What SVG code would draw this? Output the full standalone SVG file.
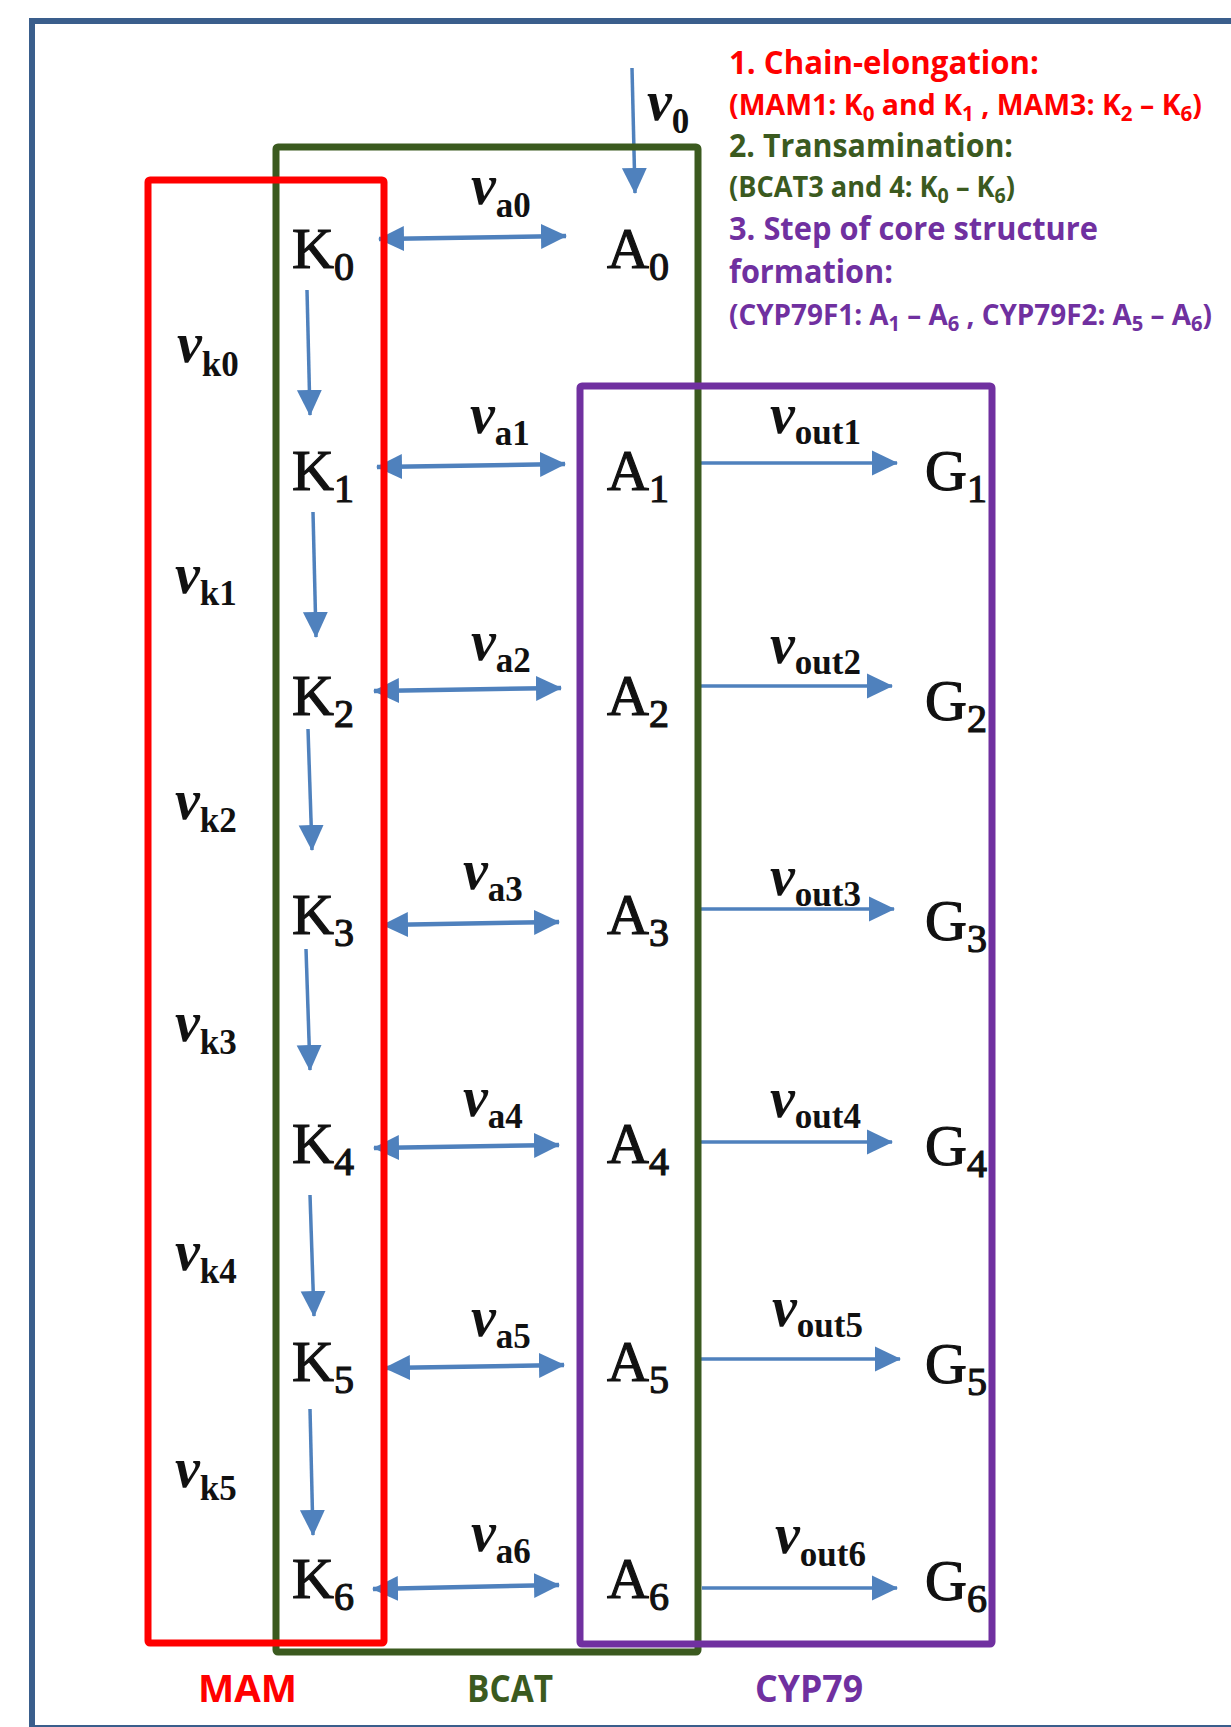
<svg xmlns="http://www.w3.org/2000/svg" width="1231" height="1727" viewBox="0 0 1231 1727">
<defs>
<marker id="ah" markerUnits="userSpaceOnUse" markerWidth="26" markerHeight="26" refX="25" refY="12.5" orient="auto-start-reverse" viewBox="0 0 26 25">
<path d="M0,0 L26,12.5 L0,25 z" fill="#4F81BD"/>
</marker>
</defs>
<style>
.nd{font-family:"Liberation Serif","Times New Roman",serif;font-size:58px;fill:#111;stroke:#111;stroke-width:1.2}
.nd .s{font-size:40px}
.v{font-family:"Liberation Serif","Times New Roman",serif;font-size:56px;font-weight:bold;font-style:italic;fill:#111}
.v .s{font-size:35px;font-style:normal}
.c{stroke:#4F81BD;fill:none;stroke-width:3.5}
.d{stroke:#4F81BD;fill:none;stroke-width:4.5;marker-start:url(#ah);marker-end:url(#ah)}
.o{stroke:#4F81BD;fill:none;stroke-width:3.5;marker-end:url(#ah)}
.t{font-family:"Open Sans",Lato,"Liberation Sans",sans-serif;font-weight:bold}
.h{font-size:32px}
.p{font-size:29px}
.p .s{font-size:21px}
.box{fill:none;stroke-width:7;stroke-linejoin:round}
</style>
<rect x="32" y="21" width="1260" height="1707" fill="none" stroke="#3A5E8C" stroke-width="6"/>
<g id="connectors">
<path class="o" d="M632,68 L635,193"/>
<path class="o" d="M307,290 L310,415"/>
<path class="o" d="M313,512 L316,637"/>
<path class="o" d="M308,729 L312,850"/>
<path class="o" d="M306,949 L310,1070"/>
<path class="o" d="M310,1195 L314,1316"/>
<path class="o" d="M310,1409 L313,1535"/>
<path class="d" d="M379,239 L566,236"/>
<path class="d" d="M377,467 L565,464"/>
<path class="d" d="M374,691 L561,688"/>
<path class="d" d="M383,925 L559,922"/>
<path class="d" d="M374,1148 L559,1145"/>
<path class="d" d="M385,1368 L564,1365"/>
<path class="d" d="M373,1589 L559,1585"/>
<path class="o" d="M701,463 L897,463"/>
<path class="o" d="M701,686 L892,686"/>
<path class="o" d="M701,909 L894,909"/>
<path class="o" d="M701,1142 L892,1142"/>
<path class="o" d="M701,1359 L900,1359"/>
<path class="o" d="M702,1588 L897,1588"/>
</g>
<g id="labels-flux">
<text class="v" x="647" y="120">v<tspan class="s" dy="13">0</tspan></text>
<text class="v" x="471" y="204">v<tspan class="s" dy="13">a0</tspan></text>
<text class="v" x="470" y="433">v<tspan class="s" dy="12">a1</tspan></text>
<text class="v" x="471" y="660">v<tspan class="s" dy="12">a2</tspan></text>
<text class="v" x="463" y="889">v<tspan class="s" dy="12">a3</tspan></text>
<text class="v" x="463" y="1116">v<tspan class="s" dy="12">a4</tspan></text>
<text class="v" x="471" y="1336">v<tspan class="s" dy="12">a5</tspan></text>
<text class="v" x="471" y="1551">v<tspan class="s" dy="12">a6</tspan></text>
<text class="v" x="770" y="433">v<tspan class="s" dy="11">out1</tspan></text>
<text class="v" x="770" y="663">v<tspan class="s" dy="11">out2</tspan></text>
<text class="v" x="770" y="895">v<tspan class="s" dy="11">out3</tspan></text>
<text class="v" x="770" y="1117">v<tspan class="s" dy="11">out4</tspan></text>
<text class="v" x="772" y="1326">v<tspan class="s" dy="11">out5</tspan></text>
<text class="v" x="775" y="1553">v<tspan class="s" dy="13">out6</tspan></text>
<text class="v" x="177" y="362">v<tspan class="s" dy="14">k0</tspan></text>
<text class="v" x="175" y="593">v<tspan class="s" dy="12">k1</tspan></text>
<text class="v" x="175" y="819">v<tspan class="s" dy="13">k2</tspan></text>
<text class="v" x="175" y="1041">v<tspan class="s" dy="13">k3</tspan></text>
<text class="v" x="175" y="1270">v<tspan class="s" dy="13">k4</tspan></text>
<text class="v" x="175" y="1487">v<tspan class="s" dy="13">k5</tspan></text>
</g>
<g id="K0"><text class="nd" x="292" y="268">K<tspan class="s" dy="12">0</tspan></text></g>
<g id="K1"><text class="nd" x="292" y="490">K<tspan class="s" dy="12">1</tspan></text></g>
<g id="K2"><text class="nd" x="292" y="715">K<tspan class="s" dy="12">2</tspan></text></g>
<g id="K3"><text class="nd" x="292" y="934">K<tspan class="s" dy="12">3</tspan></text></g>
<g id="K4"><text class="nd" x="292" y="1163">K<tspan class="s" dy="12">4</tspan></text></g>
<g id="K5"><text class="nd" x="292" y="1381">K<tspan class="s" dy="12">5</tspan></text></g>
<g id="K6"><text class="nd" x="292" y="1598">K<tspan class="s" dy="12">6</tspan></text></g>
<g id="A0"><text class="nd" x="607" y="268">A<tspan class="s" dy="12">0</tspan></text></g>
<g id="A1"><text class="nd" x="607" y="490">A<tspan class="s" dy="12">1</tspan></text></g>
<g id="A2"><text class="nd" x="607" y="715">A<tspan class="s" dy="12">2</tspan></text></g>
<g id="A3"><text class="nd" x="607" y="934">A<tspan class="s" dy="12">3</tspan></text></g>
<g id="A4"><text class="nd" x="607" y="1163">A<tspan class="s" dy="12">4</tspan></text></g>
<g id="A5"><text class="nd" x="607" y="1381">A<tspan class="s" dy="12">5</tspan></text></g>
<g id="A6"><text class="nd" x="607" y="1598">A<tspan class="s" dy="12">6</tspan></text></g>
<g id="G1"><text class="nd" x="925" y="490">G<tspan class="s" dy="12">1</tspan></text></g>
<g id="G2"><text class="nd" x="925" y="720">G<tspan class="s" dy="12">2</tspan></text></g>
<g id="G3"><text class="nd" x="925" y="940">G<tspan class="s" dy="12">3</tspan></text></g>
<g id="G4"><text class="nd" x="925" y="1165">G<tspan class="s" dy="12">4</tspan></text></g>
<g id="G5"><text class="nd" x="925" y="1383">G<tspan class="s" dy="12">5</tspan></text></g>
<g id="G6"><text class="nd" x="925" y="1600">G<tspan class="s" dy="12">6</tspan></text></g>
<g id="BCAT">
<rect class="box" x="276" y="147" width="422" height="1505" rx="2" stroke="#3B5A1F"/>
<text class="t" x="467" y="1702" font-size="37" fill="#3B5A1F" textLength="86" lengthAdjust="spacingAndGlyphs">BCAT</text>
</g>
<g id="CYP79">
<rect class="box" x="580" y="386" width="412" height="1258" rx="2" stroke="#7030A0"/>
<text class="t" x="755" y="1702" font-size="37" fill="#7030A0" textLength="108" lengthAdjust="spacingAndGlyphs">CYP79</text>
</g>
<g id="MAM">
<rect class="box" x="148" y="180" width="236" height="1463" rx="2" stroke="#FF0000"/>
<text class="t" x="198" y="1702" font-size="37" fill="#FF0000" textLength="99" lengthAdjust="spacingAndGlyphs">MAM</text>
</g>
<g id="legend">
<text class="t h" x="729" y="74" fill="#FF0000" textLength="310" lengthAdjust="spacingAndGlyphs">1. Chain-elongation:</text>
<text class="t p" x="729" y="115" fill="#FF0000" textLength="473" lengthAdjust="spacingAndGlyphs">(MAM1: K<tspan class="s" dy="6">0</tspan><tspan dy="-6"> and K</tspan><tspan class="s" dy="6">1</tspan><tspan dy="-6"> ,  MAM3: K</tspan><tspan class="s" dy="6">2</tspan><tspan dy="-6"> – K</tspan><tspan class="s" dy="6">6</tspan><tspan dy="-6">)</tspan></text>
<text class="t h" x="729" y="157" fill="#3B5A1F" textLength="284" lengthAdjust="spacingAndGlyphs">2. Transamination:</text>
<text class="t p" x="729" y="197" fill="#3B5A1F" textLength="286" lengthAdjust="spacingAndGlyphs">(BCAT3 and 4: K<tspan class="s" dy="6">0</tspan><tspan dy="-6"> – K</tspan><tspan class="s" dy="6">6</tspan><tspan dy="-6">)</tspan></text>
<text class="t h" x="729" y="240" fill="#7030A0" textLength="369" lengthAdjust="spacingAndGlyphs">3. Step of core structure</text>
<text class="t h" x="729" y="283" fill="#7030A0" textLength="164" lengthAdjust="spacingAndGlyphs">formation:</text>
<text class="t p" x="729" y="325" fill="#7030A0" textLength="483" lengthAdjust="spacingAndGlyphs">(CYP79F1: A<tspan class="s" dy="6">1</tspan><tspan dy="-6"> – A</tspan><tspan class="s" dy="6">6</tspan><tspan dy="-6"> , CYP79F2: A</tspan><tspan class="s" dy="6">5</tspan><tspan dy="-6"> – A</tspan><tspan class="s" dy="6">6</tspan><tspan dy="-6">)</tspan></text>
</g>
</svg>
